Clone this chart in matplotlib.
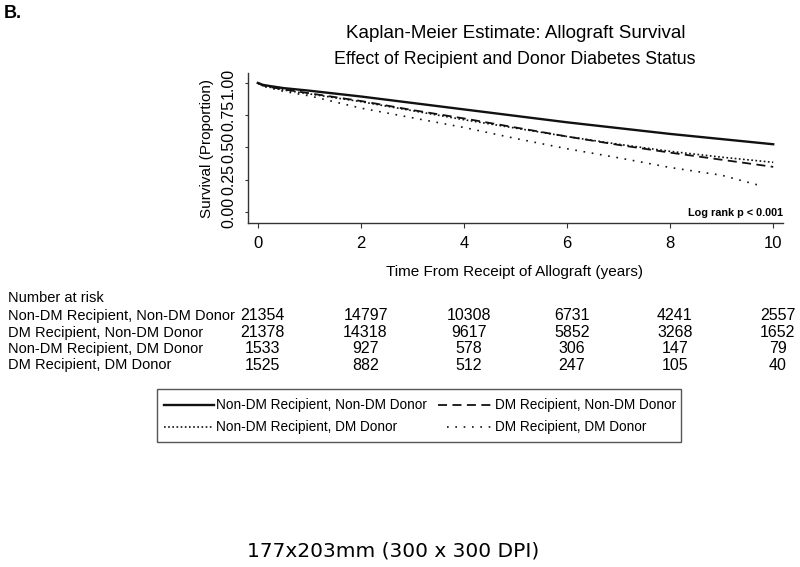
import matplotlib
matplotlib.use('Agg')
import matplotlib.pyplot as plt
from matplotlib.lines import Line2D
from matplotlib.patches import Rectangle
import matplotlib.transforms as mtransforms

plt.rcParams['font.family'] = ['Liberation Sans', 'DejaVu Sans']

# Kaplan-Meier curves
times = [0, 0.1, 0.25, 0.5, 1, 2, 3, 4, 5, 6, 7, 8, 9, 10]
surv_nondm_nondm = [1.0, 0.985, 0.975, 0.96, 0.94, 0.895, 0.845, 0.795, 0.745, 0.695, 0.65, 0.605, 0.565, 0.525]
surv_dm_nondm = [1.0, 0.98, 0.968, 0.95, 0.92, 0.86, 0.79, 0.725, 0.655, 0.585, 0.52, 0.46, 0.405, 0.35]
surv_nondm_dm = [1.0, 0.978, 0.965, 0.945, 0.915, 0.855, 0.785, 0.715, 0.65, 0.585, 0.525, 0.47, 0.425, 0.385]
times_dm_dm = [0, 0.1, 0.25, 0.5, 1, 2, 3, 4, 5, 6, 7, 8, 9, 9.7]
surv_dm_dm = [1.0, 0.975, 0.96, 0.935, 0.9, 0.805, 0.73, 0.655, 0.57, 0.49, 0.42, 0.345, 0.285, 0.21]

group_names = ['Non-DM Recipient, Non-DM Donor', 'DM Recipient, Non-DM Donor',
               'Non-DM Recipient, DM Donor', 'DM Recipient, DM Donor']
risk_times = [0, 2, 4, 6, 8, 10]
at_risk = [
    [21354, 14797, 10308, 6731, 4241, 2557],
    [21378, 14318, 9617, 5852, 3268, 1652],
    [1533, 927, 578, 306, 147, 79],
    [1525, 882, 512, 247, 105, 40],
]

W, H = 800, 567


def fx(px):
    return px / W


def fy(py):
    return 1 - py / H


styles = [
    dict(linestyle='-', linewidth=1.7),
    dict(linestyle=(0, (5, 3)), linewidth=1.3),
    dict(linestyle=(0, (1, 1.5)), linewidth=1.2),
    dict(linestyle=(0, (1, 4)), linewidth=1.2),
]
col = '#111111'

fig = plt.figure(figsize=(8, 5.67), dpi=100)
ax = fig.add_axes([fx(248), fy(223), (783 - 248) / W, (223 - 73) / H])

ax.plot(times, surv_nondm_nondm, color=col, **styles[0])
ax.plot(times, surv_dm_nondm, color=col, **styles[1])
ax.plot(times, surv_nondm_dm, color=col, **styles[2])
ax.plot(times_dm_dm, surv_dm_dm, color=col, **styles[3])

ax.set_xlim(-0.19, 10.19)
ax.set_ylim(-0.085, 1.077)
ax.set_xticks(risk_times)
ax.set_yticks([0, 0.25, 0.5, 0.75, 1.0])
ax.set_yticklabels(['0.00', '0.25', '0.50', '0.75', '1.00'], rotation=90, va='center')
ax.tick_params(axis='x', labelsize=12, length=3.5, pad=6, color='#333333')
ax.tick_params(axis='y', labelsize=11.5, length=2.5, pad=6, color='#333333')
for s in ['top', 'right']:
    ax.spines[s].set_visible(False)
for s in ['left', 'bottom']:
    ax.spines[s].set_color('#333333')
    ax.spines[s].set_linewidth(1.0)

ax.text(1.0, 0.03, 'Log rank p < 0.001', transform=ax.transAxes, ha='right', va='bottom',
        fontsize=7.8, fontweight='bold')

fig.text(fx(207), fy(148), 'Survival (Proportion)', rotation=90, ha='center', va='center',
         fontsize=11)
fig.text(fx(515), fy(272), 'Time From Receipt of Allograft (years)', ha='center', va='center',
         fontsize=11)

fig.text(fx(516), fy(34), 'Kaplan-Meier Estimate: Allograft Survival', ha='center', va='center',
         fontsize=13.5)
fig.text(fx(515), fy(60), 'Effect of Recipient and Donor Diabetes Status', ha='center', va='center',
         fontsize=12.8)
fig.text(fx(4), fy(14), 'B.', ha='left', va='center', fontsize=13, fontweight='bold')

# number at risk table
fig.text(fx(8), fy(298), 'Number at risk', ha='left', va='center', fontsize=10.5)
row_y = [316, 332.5, 348.5, 365]
trans = mtransforms.blended_transform_factory(ax.transData, fig.transFigure)
for i, name in enumerate(group_names):
    fig.text(fx(8), fy(row_y[i]), name, ha='left', va='center', fontsize=10.5)
    for t, n in zip(risk_times, at_risk[i]):
        ax.text(t + 0.09, fy(row_y[i]), str(n), transform=trans, ha='center', va='center',
                fontsize=11.5, clip_on=False)

# legend box
fig.add_artist(Rectangle((fx(157), fy(442)), (681 - 157) / W, (442 - 389) / H,
                         transform=fig.transFigure, fill=False, edgecolor='#555555', linewidth=1.0))
leg_rows = [405, 427]
samples = [(164, 214), (438, 494), (164, 214), (447, 494)]
text_x = [216, 495, 216, 495]
for i, name in enumerate(group_names):
    yy = fy(leg_rows[i // 2])
    x0, x1 = samples[i]
    fig.add_artist(Line2D([fx(x0), fx(x1)], [yy, yy], transform=fig.transFigure, color=col,
                          **styles[i]))
    fig.text(fx(text_x[i]), yy, name, ha='left', va='center', fontsize=9.8)

fig.text(fx(247), fy(551), '177x203mm (300 x 300 DPI)', ha='left', va='center',
         fontsize=14.5, family='DejaVu Sans')

fig.savefig('out.png', dpi=100)
